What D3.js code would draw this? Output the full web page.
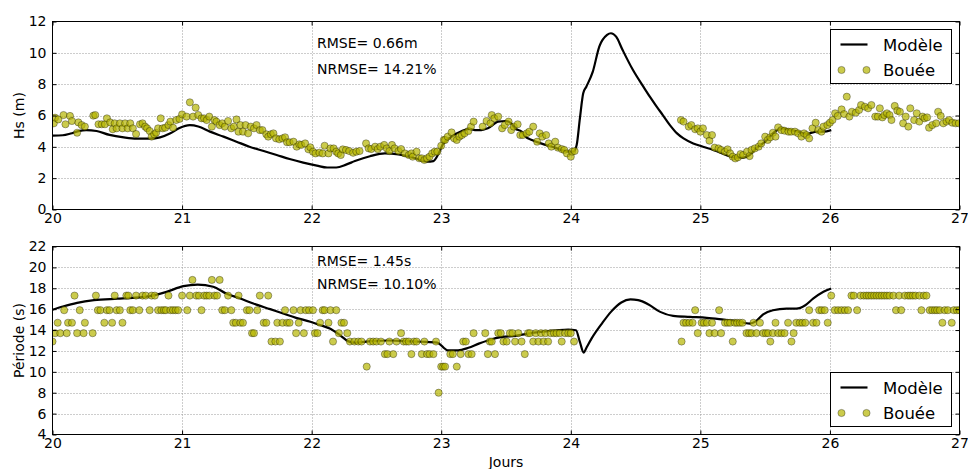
<!DOCTYPE html>
<html>
<head>
<meta charset="utf-8">
<script src="https://cdn.jsdelivr.net/npm/d3@7"></script>
<style>
  body { margin: 0; background: #fff; }
  text { font-family: "DejaVu Sans", sans-serif; }
</style>
</head>
<body>
<svg id="chart" width="968" height="469"></svg>
<script>
// axis ticks
const days = [20, 21, 22, 23, 24, 25, 26, 27];
const hsTicks = [0, 2, 4, 6, 8, 10, 12];
const tpTicks = [4, 6, 8, 10, 12, 14, 16, 18, 20, 22];

// Hs - model
const hsModelT = [20.0, 20.08, 20.14, 20.2, 20.26, 20.34, 20.44, 20.55, 20.65, 20.75, 20.83, 20.91, 20.98, 21.06, 21.125, 21.215, 21.32, 21.42, 21.52, 21.63, 21.73, 21.83, 21.935, 22.04, 22.12, 22.19, 22.27, 22.334, 22.45, 22.565, 22.67, 22.80, 22.89, 22.94, 22.98, 23.01, 23.08, 23.16, 23.22, 23.26, 23.31, 23.36, 23.44, 23.50, 23.54, 23.57, 23.62, 23.65, 23.70, 23.77, 23.88, 23.98, 24.02, 24.045, 24.07, 24.096, 24.12, 24.17, 24.22, 24.28, 24.31, 24.35, 24.40, 24.48, 24.56, 24.61, 24.66, 24.71, 24.765, 24.82, 24.87, 24.945, 25.02, 25.10, 25.18, 25.255, 25.33, 25.38, 25.43, 25.50, 25.56, 25.625, 25.69, 25.755, 25.82, 25.90, 25.95, 26.01];
const hsModelV = [4.72, 4.74, 4.85, 5.0, 5.07, 5.01, 4.76, 4.6, 4.52, 4.52, 4.6, 4.86, 5.2, 5.38, 5.3, 4.97, 4.65, 4.33, 4.01, 3.73, 3.48, 3.22, 2.99, 2.8, 2.68, 2.68, 2.88, 3.09, 3.4, 3.58, 3.52, 3.27, 3.05, 3.09, 3.58, 4.12, 4.65, 5.01, 5.14, 5.07, 5.07, 5.18, 5.61, 5.65, 5.5, 5.18, 4.97, 4.65, 4.44, 4.22, 3.95, 3.69, 3.69, 4.1, 5.8, 7.42, 7.84, 8.8, 10.4, 11.14, 11.25, 11.03, 10.18, 8.9, 7.84, 7.2, 6.6, 6.03, 5.39, 4.86, 4.54, 4.22, 4.01, 3.8, 3.54, 3.33, 3.31, 3.48, 3.9, 4.33, 4.86, 5.18, 5.07, 4.97, 4.82, 4.97, 4.97, 5.07];

// Hs - buoy
const hsBuoyT = [20.01, 20.02, 20.045, 20.085, 20.10, 20.135, 20.15, 20.19, 20.20, 20.225, 20.25, 20.315, 20.33, 20.355, 20.38, 20.405, 20.42, 20.445, 20.465, 20.48, 20.495, 20.52, 20.54, 20.56, 20.58, 20.60, 20.62, 20.645, 20.675, 20.695, 20.715, 20.73, 20.75, 20.765, 20.785, 20.80, 20.815, 20.835, 20.85, 20.87, 20.895, 20.91, 20.93, 20.955, 20.98, 21.00, 21.035, 21.06, 21.085, 21.105, 21.125, 21.15, 21.17, 21.19, 21.21, 21.23, 21.25, 21.265, 21.29, 21.31, 21.33, 21.355, 21.38, 21.40, 21.42, 21.435, 21.45, 21.47, 21.49, 21.51, 21.53, 21.555, 21.575, 21.60, 21.62, 21.65, 21.665, 21.685, 21.705, 21.725, 21.75, 21.775, 21.795, 21.81, 21.83, 21.86, 21.885, 21.905, 21.92, 21.95, 21.975, 21.99, 22.01, 22.03, 22.06, 22.085, 22.10, 22.13, 22.145, 22.17, 22.19, 22.205, 22.225, 22.24, 22.265, 22.29, 22.32, 22.345,
  22.37, 22.42, 22.44, 22.46, 22.49, 22.51, 22.53, 22.56, 22.58, 22.60, 22.62, 22.64, 22.67, 22.69, 22.72, 22.75, 22.77, 22.78, 22.81, 22.83, 22.85, 22.87, 22.89, 22.91, 22.93, 22.95, 22.97, 23.00, 23.02, 23.03, 23.05, 23.08, 23.10, 23.12, 23.14, 23.16, 23.18, 23.21, 23.23, 23.25, 23.32, 23.35, 23.38, 23.39, 23.41, 23.44, 23.47, 23.49, 23.52, 23.54, 23.56, 23.59, 23.61, 23.63, 23.66, 23.68, 23.71, 23.74, 23.76, 23.78, 23.81, 23.83, 23.85, 23.88, 23.90, 23.93, 23.95, 23.97, 24.00, 24.01, 24.03,
  24.85, 24.87, 24.91, 24.93, 24.96, 24.98, 25.00, 25.02, 25.05, 25.07, 25.09, 25.11, 25.14, 25.16, 25.19, 25.21, 25.23, 25.25, 25.27, 25.29, 25.31, 25.33, 25.36, 25.38, 25.395, 25.42, 25.45, 25.47, 25.50, 25.52, 25.54, 25.56, 25.58, 25.60, 25.625, 25.65, 25.68, 25.70, 25.73, 25.755, 25.78, 25.80, 25.82, 25.84, 25.865, 25.89, 25.91, 25.935, 25.95, 25.98, 26.00, 26.02, 26.04, 26.06, 26.09, 26.11, 26.13, 26.15, 26.17, 26.20, 26.225, 26.24, 26.27, 26.295, 26.32, 26.35, 26.37, 26.385, 26.405, 26.42, 26.44, 26.46, 26.475, 26.50, 26.52, 26.54, 26.565, 26.585, 26.605, 26.62, 26.65, 26.67, 26.69, 26.715, 26.73, 26.75, 26.765, 26.79, 26.82, 26.835, 26.855, 26.875, 26.90, 26.92, 26.945, 26.97, 26.995];
const hsBuoyV = [5.50, 5.86, 5.75, 6.03, 5.44, 5.97, 5.65, 4.90, 5.56, 5.39, 5.29, 5.99, 6.03, 5.44, 5.44, 5.44, 5.82, 5.56, 5.12, 5.50, 5.18, 5.50, 5.18, 5.50, 5.18, 5.50, 5.18, 4.82, 5.44, 5.50, 5.29, 5.18, 5.01, 4.65, 4.80, 4.90, 5.18, 5.82, 5.18, 5.22, 5.39, 5.61, 5.22, 5.71, 5.78, 6.07, 5.93, 6.84, 5.93, 6.50, 6.03, 5.82, 5.82, 5.71, 5.93, 5.29, 5.71, 5.61, 5.39, 5.50, 5.29, 5.65, 5.18, 5.29, 5.75, 4.97, 5.39, 4.97, 5.39, 4.86, 5.29, 5.18, 5.39, 5.07, 5.07, 4.80, 4.65, 4.80, 4.86, 4.54, 4.48, 4.54, 4.61, 4.29, 4.29, 4.33, 4.01, 4.16, 4.12, 4.22, 3.84, 3.97, 3.69, 3.58, 3.63, 3.58, 4.07, 3.58, 3.90, 3.90, 3.69, 3.58, 3.48, 3.84, 3.80, 3.73, 3.62, 3.69,
  3.73, 4.22, 3.90, 3.86, 4.01, 3.86, 4.01, 4.12, 3.90, 3.73, 4.12, 3.90, 3.73, 3.86, 3.58, 3.48, 3.58, 3.37, 3.69, 3.27, 3.27, 3.16, 3.27, 3.37, 3.58, 3.69, 3.69, 4.07, 4.44, 4.44, 4.65, 4.92, 4.54, 4.44, 4.65, 4.75, 4.86, 5.01, 5.29, 5.61, 5.29, 5.65, 5.50, 6.03, 5.82, 5.93, 5.18, 5.39, 5.61, 5.07, 5.29, 5.44, 4.75, 4.75, 4.86, 4.97, 5.29, 4.33, 4.86, 4.65, 4.75, 4.22, 4.01, 4.33, 3.95, 3.86, 3.80, 3.58, 3.37, 3.69, 3.73,
  5.71, 5.61, 5.29, 5.39, 5.12, 5.18, 4.97, 5.18, 4.75, 4.39, 4.75, 3.95, 3.90, 3.80, 3.69, 3.84, 3.58, 3.37, 3.26, 3.33, 3.54, 3.48, 3.69, 3.41, 3.80, 3.90, 4.01, 4.22, 4.65, 4.44, 4.61, 4.90, 4.65, 5.24, 5.07, 5.03, 4.97, 4.97, 4.97, 4.86, 4.65, 4.86, 4.75, 4.54, 5.18, 5.54, 5.07, 4.97, 5.29, 5.39, 5.54, 5.71, 6.14, 5.97, 6.39, 6.09, 7.20, 5.93, 6.24, 6.18, 6.35, 6.67, 6.56, 6.46, 6.67, 5.93, 5.93, 6.46, 5.88, 6.03, 6.14, 6.03, 5.71, 6.61, 6.31, 6.24, 5.50, 5.93, 5.29, 6.46, 5.71, 6.14, 5.61, 5.93, 5.82, 5.88, 5.22, 5.39, 5.50, 6.24, 5.97, 5.50, 5.61, 5.71, 5.54, 5.50, 5.50];

// Periode - model
const tpModelT = [20.0, 20.08, 20.19, 20.32, 20.50, 20.62, 20.75, 20.88, 21.01, 21.12, 21.24, 21.34, 21.45, 21.55, 21.68, 21.78, 21.88, 21.99, 22.06, 22.14, 22.22, 22.28, 22.33, 22.46, 22.59, 22.72, 22.85, 22.97, 23.02, 23.05, 23.13, 23.21, 23.29, 23.36, 23.47, 23.57, 23.67, 23.77, 23.88, 23.98, 24.04, 24.07, 24.10, 24.12, 24.16, 24.24, 24.31, 24.39, 24.46, 24.52, 24.60, 24.69, 24.79, 24.92, 25.05, 25.18, 25.28, 25.38, 25.43, 25.485, 25.56, 25.665, 25.74, 25.81, 25.87, 25.95, 26.01];
const tpModelV = [15.95, 16.25, 16.6, 16.86, 17.0, 17.08, 17.25, 17.66, 18.2, 18.35, 18.15, 17.5, 17.02, 16.54, 16.0, 15.58, 15.17, 14.8, 14.5, 14.14, 13.5, 12.94, 12.8, 12.94, 13.0, 12.94, 12.88, 12.8, 12.3, 12.06, 12.06, 12.3, 12.7, 13.0, 13.34, 13.44, 13.66, 13.82, 13.95, 14.05, 13.98, 12.86, 11.84, 12.29, 13.18, 14.62, 15.74, 16.64, 16.93, 16.86, 16.45, 15.74, 15.36, 15.26, 15.17, 15.0, 14.86, 14.62, 14.86, 15.5, 15.9, 16.06, 16.06, 16.38, 17.0, 17.66, 17.98];

// Periode - buoy
const tpBuoyT = [20.0, 20.02, 20.04, 20.06, 20.09, 20.11, 20.12, 20.15, 20.17, 20.19, 20.21, 20.24, 20.25, 20.31, 20.335, 20.35, 20.37, 20.40, 20.42, 20.44, 20.46, 20.48, 20.495, 20.52, 20.54, 20.57, 20.585, 20.60, 20.62, 20.645, 20.67, 20.695, 20.72, 20.75, 20.765, 20.79, 20.815, 20.84, 20.86, 20.875, 20.895, 20.91, 20.93, 20.95, 20.97, 21.00, 21.04, 21.06, 21.08, 21.11, 21.13, 21.15, 21.17, 21.19, 21.21, 21.23, 21.25, 21.27, 21.29, 21.31, 21.33, 21.355, 21.38, 21.395, 21.415, 21.436, 21.45, 21.47, 21.50, 21.52, 21.54, 21.555, 21.58, 21.60, 21.63, 21.65, 21.665, 21.69, 21.72, 21.735, 21.755, 21.775, 21.795, 21.81, 21.83, 21.86, 21.88, 21.90, 21.915, 21.94, 21.955, 21.98, 22.01, 22.025, 22.045, 22.065, 22.085, 22.10, 22.13, 22.145, 22.165, 22.19, 22.21, 22.23, 22.25, 22.275, 22.295, 22.33,
  22.36, 22.385, 22.425, 22.45, 22.475, 22.50, 22.535, 22.565, 22.585, 22.60, 22.63, 22.655, 22.69, 22.71, 22.73, 22.75, 22.77, 22.79, 22.81, 22.85, 22.87, 22.89, 22.91, 22.94, 22.96, 22.98, 23.0, 23.015, 23.03, 23.07, 23.09, 23.12, 23.15, 23.17, 23.19, 23.21, 23.235, 23.25, 23.34, 23.36, 23.375, 23.39, 23.415, 23.44, 23.46, 23.48, 23.505, 23.53, 23.55, 23.57, 23.595, 23.62, 23.645, 23.67, 23.685, 23.71, 23.73, 23.75, 23.77, 23.79, 23.805, 23.825, 23.845, 23.87, 23.89, 23.915, 23.93, 23.955, 23.98, 24.0, 24.025,
  24.855, 24.87, 24.89, 24.915, 24.94, 24.96, 24.98, 25.01, 25.027, 25.05, 25.07, 25.09, 25.11, 25.145, 25.16, 25.19, 25.21, 25.23, 25.25, 25.266, 25.284, 25.305, 25.325, 25.356, 25.376, 25.395, 25.41, 25.433, 25.46, 25.485, 25.505, 25.523, 25.54, 25.56, 25.58, 25.60, 25.626, 25.65, 25.677, 25.703, 25.72, 25.74, 25.767, 25.788, 25.81, 25.84, 25.87, 25.896, 25.917, 25.937, 25.96, 25.983, 26.01, 26.037, 26.063, 26.089, 26.115, 26.14, 26.166, 26.184, 26.21, 26.236, 26.261, 26.282, 26.30, 26.32, 26.34, 26.36, 26.38, 26.40, 26.42, 26.44, 26.46, 26.49, 26.51, 26.534, 26.55, 26.578, 26.603, 26.62, 26.64, 26.66, 26.69, 26.706, 26.724, 26.745, 26.77, 26.79, 26.81, 26.827, 26.848, 26.868, 26.886, 26.91, 26.94, 26.956, 26.98, 27.0];
const tpBuoyV = [12.9, 13.7, 14.7, 13.7, 15.9, 13.7, 14.7, 14.7, 17.3, 13.7, 15.9, 13.7, 14.7, 13.7, 17.3, 15.9, 15.9, 14.7, 15.9, 15.9, 14.7, 17.3, 15.9, 15.9, 14.7, 17.3, 17.3, 15.9, 15.9, 17.3, 15.9, 17.3, 17.3, 15.9, 17.3, 17.3, 15.9, 15.9, 15.9, 15.9, 17.3, 15.9, 15.9, 15.9, 15.9, 17.3, 15.9, 17.3, 18.8, 17.3, 17.3, 15.9, 17.3, 17.3, 17.3, 18.8, 17.3, 17.3, 18.8, 15.9, 15.9, 17.3, 15.9, 14.7, 14.7, 17.3, 14.7, 14.7, 15.9, 15.9, 13.7, 13.7, 15.9, 17.3, 14.7, 14.7, 17.3, 12.9, 12.9, 14.7, 12.9, 14.7, 15.9, 14.7, 14.7, 15.9, 13.7, 14.7, 15.9, 13.7, 15.9, 15.9, 15.9, 13.7, 13.7, 14.7, 15.9, 15.9, 14.7, 15.9, 12.9, 15.9, 13.7, 14.7, 14.7, 13.7, 12.9, 12.9,
  12.9, 12.9, 10.5, 12.9, 12.9, 12.9, 12.9, 11.7, 11.7, 12.9, 11.7, 12.9, 13.7, 12.9, 12.9, 12.9, 11.7, 12.9, 12.9, 11.7, 12.9, 11.7, 11.7, 11.7, 12.9, 8.0, 10.5, 10.5, 10.5, 11.7, 11.7, 10.5, 11.7, 12.9, 12.9, 11.7, 11.7, 13.7, 13.7, 11.7, 12.9, 12.9, 11.7, 13.7, 13.7, 12.9, 12.9, 13.7, 13.7, 12.9, 13.7, 12.9, 11.7, 13.7, 13.7, 12.9, 13.7, 12.9, 13.7, 12.9, 13.7, 12.9, 13.7, 13.7, 13.7, 13.7, 12.9, 13.7, 13.7, 13.7, 12.9,
  12.9, 14.7, 14.7, 14.7, 14.7, 15.9, 13.7, 14.7, 14.7, 14.7, 13.7, 14.7, 13.7, 15.9, 13.7, 14.7, 14.7, 14.7, 12.9, 14.7, 14.7, 14.7, 14.7, 13.7, 13.7, 13.7, 14.7, 13.7, 14.7, 13.7, 13.7, 13.7, 12.9, 13.7, 14.7, 13.7, 13.7, 13.7, 14.7, 12.9, 13.7, 14.7, 14.7, 14.7, 14.7, 15.9, 14.7, 14.7, 15.9, 15.9, 15.9, 14.7, 17.3, 15.9, 15.9, 15.9, 15.9, 15.9, 17.3, 17.3, 15.9, 17.3, 17.3, 17.3, 17.3, 17.3, 17.3, 17.3, 17.3, 17.3, 17.3, 17.3, 17.3, 17.3, 15.9, 17.3, 15.9, 17.3, 17.3, 17.3, 17.3, 17.3, 17.3, 15.9, 17.3, 17.3, 15.9, 15.9, 15.9, 15.9, 15.9, 14.7, 15.9, 15.9, 14.7, 15.9, 15.9, 15.9];

const width = 968, height = 469;
const svg = d3.select("#chart");
svg.append("rect").attr("width", width).attr("height", height).attr("fill", "#fff");

const x = d3.scaleLinear().domain([20, 27]).range([52.5, 959.5]);

function drawPanel(p) {
    const y = d3.scaleLinear().domain(p.yDomain).range([p.bottom, p.top]);
    const g = svg.append("g");
    const clipId = "clip-" + p.name;

    g.append("clipPath").attr("id", clipId)
        .append("rect")
        .attr("x", 52.5).attr("y", p.top)
        .attr("width", 907).attr("height", p.bottom - p.top);

    // dotted grid
    g.selectAll(".vgrid").data(days.slice(1, -1)).enter().append("line")
        .attr("x1", d => Math.round(x(d)) + 0.5).attr("x2", d => Math.round(x(d)) + 0.5)
        .attr("y1", p.top).attr("y2", p.bottom)
        .style("stroke", "#9a9a9a").style("stroke-dasharray", "1,2");
    g.selectAll(".hgrid").data(p.ticks.slice(1, -1)).enter().append("line")
        .attr("y1", d => Math.round(y(d)) + 0.5).attr("y2", d => Math.round(y(d)) + 0.5)
        .attr("x1", 52.5).attr("x2", 959.5)
        .style("stroke", "#9a9a9a").style("stroke-dasharray", "1,2");

    const data = g.append("g").attr("clip-path", `url(#${clipId})`);

    const line = d3.line()
        .x((d, i) => x(p.modelT[i]))
        .y(d => y(d))
        .curve(d3.curveMonotoneX);
    data.append("path")
        .attr("d", line(p.modelV))
        .style("fill", "none").style("stroke", "#000").style("stroke-width", 2.2);

    data.selectAll(".pt").data(p.buoyV).enter().append("circle")
        .attr("cx", (d, i) => x(p.buoyT[i]))
        .attr("cy", d => y(d))
        .attr("r", 3.6)
        .style("fill", "#b5b500").style("fill-opacity", 0.7)
        .style("stroke", "#000").style("stroke-opacity", 0.55).style("stroke-width", 0.6);

    // axes with inward ticks
    const left = g.append("g").attr("transform", "translate(52.5,0)")
        .call(d3.axisLeft(y).tickValues(p.ticks).tickSizeInner(-4).tickSizeOuter(0).tickPadding(6));
    const right = g.append("g").attr("transform", "translate(959.5,0)")
        .call(d3.axisRight(y).tickValues(p.ticks).tickSizeInner(-4).tickSizeOuter(0).tickFormat(""));
    const bottom = g.append("g").attr("transform", `translate(0,${p.bottom})`)
        .call(d3.axisBottom(x).tickValues(days).tickSizeInner(-4).tickSizeOuter(0).tickPadding(4).tickFormat(d3.format("d")));
    const top = g.append("g").attr("transform", `translate(0,${p.top})`)
        .call(d3.axisTop(x).tickValues(days).tickSizeInner(-4).tickSizeOuter(0).tickFormat(""));
    [left, right, bottom, top].forEach(a => {
        a.select(".domain").remove();
        a.selectAll("text").style("font-family", "DejaVu Sans").style("font-size", "14px").attr("fill", "#000");
    });

    g.append("rect")
        .attr("x", 52.5).attr("y", p.top)
        .attr("width", 907).attr("height", p.bottom - p.top)
        .style("fill", "none").style("stroke", "#000").style("stroke-width", 1);

    // y label
    g.append("text")
        .attr("transform", `translate(23.5,${(p.top + p.bottom) / 2}) rotate(-90)`)
        .attr("text-anchor", "middle")
        .style("font-size", "14px")
        .text(p.label);

    // error stats
    p.stats.forEach((s, i) => {
        g.append("text")
            .attr("x", 317).attr("y", p.top + p.statsY[i])
            .style("font-size", "14px")
            .text(s);
    });

    // legend
    const lg = g.append("g").attr("transform", `translate(830.5,${p.legendTop})`);
    lg.append("rect").attr("width", 121).attr("height", 54)
        .style("fill", "#fff").style("stroke", "#000").style("stroke-width", 1);
    lg.append("line").attr("x1", 10).attr("x2", 37).attr("y1", 15).attr("y2", 15)
        .style("stroke", "#000").style("stroke-width", 2.2);
    lg.append("text").attr("x", 52.5).attr("y", 21.5).style("font-size", "16.5px").text("Modèle");
    lg.selectAll(".lm").data([11, 36]).enter().append("circle")
        .attr("cx", d => d).attr("cy", 40.5).attr("r", 3.6)
        .style("fill", "#b5b500").style("fill-opacity", 0.7)
        .style("stroke", "#000").style("stroke-opacity", 0.55).style("stroke-width", 0.6);
    lg.append("text").attr("x", 52.5).attr("y", 46.5).style("font-size", "16.5px").text("Bouée");
}

drawPanel({
    name: "hs", top: 21.5, bottom: 209.5, yDomain: [0, 12], ticks: hsTicks,
    modelT: hsModelT, modelV: hsModelV, buoyT: hsBuoyT, buoyV: hsBuoyV,
    label: "Hs (m)", stats: ["RMSE= 0.66m", "NRMSE= 14.21%"], statsY: [26.5, 52.5],
    legendTop: 29.5
});

drawPanel({
    name: "tp", top: 246.5, bottom: 434.5, yDomain: [4, 22], ticks: tpTicks,
    modelT: tpModelT, modelV: tpModelV, buoyT: tpBuoyT, buoyV: tpBuoyV,
    label: "Période (s)", stats: ["RMSE= 1.45s", "NRMSE= 10.10%"], statsY: [19.5, 42.5],
    legendTop: 372.5
});

svg.append("text")
    .attr("x", 506).attr("y", 467)
    .attr("text-anchor", "middle")
    .style("font-size", "14px")
    .text("Jours");
</script>
</body>
</html>
